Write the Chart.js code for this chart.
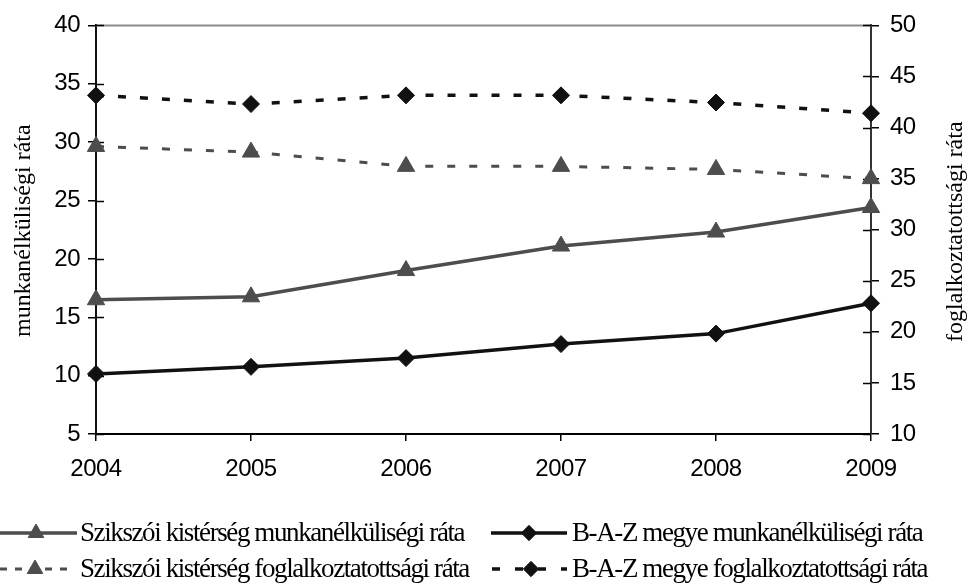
<!DOCTYPE html>
<html><head><meta charset="utf-8">
<script src="https://cdn.jsdelivr.net/npm/chart.js@4/dist/chart.umd.min.js"></script>
<style>html,body{margin:0;padding:0;background:#fff}#wrap{width:968px;height:588px;position:relative}</style>
</head><body><div id="wrap"><canvas id="c" width="968" height="588"></canvas></div>
<script>
const years = ['2004','2005','2006','2007','2008','2009'];
const sziksziMunka = [16.5, 16.75, 19.0, 21.1, 22.3, 24.4];
const bazMunka = [10.15, 10.75, 11.5, 12.7, 13.6, 16.2];
const sziksziFog = [38.15, 37.6, 36.2, 36.2, 35.9, 35.0];
const bazFog = [43.15, 42.3, 43.15, 43.15, 42.45, 41.4];
const leftRange = [5, 40];
const rightRange = [10, 50];
const tickStep = 5;
const seriesLabels = [
  'Szikszói kistérség munkanélküliségi ráta',
  'B-A-Z megye munkanélküliségi ráta',
  'Szikszói kistérség foglalkoztatottsági ráta',
  'B-A-Z megye foglalkoztatottsági ráta'
];
const leftTitle = 'munkanélküliségi ráta';
const rightTitle = 'foglalkoztatottsági ráta';

const GRAY = '#4d4d4d', BLACK = '#111';
const tickFont = {family: "'Liberation Sans', Arial, sans-serif", size: 24};
const serif = "'Liberation Serif', 'Times New Roman', serif";

const datasets = [
  {label: seriesLabels[0], data: sziksziMunka, yAxisID: 'y', borderColor: GRAY, backgroundColor: GRAY,
   borderWidth: 3.5, pointStyle: 'triangle', pointRadius: 10, pointBorderWidth: 1, pointBackgroundColor: GRAY, pointBorderColor: GRAY, tension: 0},
  {label: seriesLabels[1], data: bazMunka, yAxisID: 'y', borderColor: BLACK, backgroundColor: BLACK,
   borderWidth: 3.5, pointStyle: 'rectRot', pointRadius: 8.5, pointBorderWidth: 1, pointBackgroundColor: BLACK, pointBorderColor: BLACK, tension: 0},
  {label: seriesLabels[2], data: sziksziFog, yAxisID: 'y1', borderColor: GRAY, backgroundColor: GRAY,
   borderWidth: 3, borderDash: [8, 14], pointStyle: 'triangle', pointRadius: 10, pointBorderWidth: 1, pointBackgroundColor: GRAY, pointBorderColor: GRAY, tension: 0},
  {label: seriesLabels[3], data: bazFog, yAxisID: 'y1', borderColor: BLACK, backgroundColor: BLACK,
   borderWidth: 3.5, borderDash: [8, 14], pointStyle: 'rectRot', pointRadius: 8.5, pointBorderWidth: 1, pointBackgroundColor: BLACK, pointBorderColor: BLACK, tension: 0}
];

function drawMarker(ctx, style, x, y, r, color) {
  ctx.save();
  ctx.setLineDash([]);
  ctx.fillStyle = color; ctx.strokeStyle = color; ctx.lineWidth = 1;
  ctx.beginPath();
  if (style === 'triangle') {
    ctx.moveTo(x, y - r);
    ctx.lineTo(x + r * Math.sin(2 * Math.PI / 3), y + r / 2);
    ctx.lineTo(x - r * Math.sin(2 * Math.PI / 3), y + r / 2);
  } else {
    ctx.moveTo(x - r, y); ctx.lineTo(x, y - r); ctx.lineTo(x + r, y); ctx.lineTo(x, y + r);
  }
  ctx.closePath(); ctx.fill(); ctx.stroke();
  ctx.restore();
}

const extras = {
  id: 'extras',
  beforeDraw(chart) {
    chart.ctx.letterSpacing = '-0.5px';
  },
  beforeDatasetsDraw(chart) {
    const ctx = chart.ctx, a = chart.chartArea;
    ctx.save();
    ctx.strokeStyle = '#8c8c8c'; ctx.lineWidth = 2;
    ctx.beginPath(); ctx.moveTo(a.left, a.top); ctx.lineTo(a.right, a.top); ctx.stroke();
    ctx.strokeStyle = '#000'; ctx.lineWidth = 1.5;
    const sy = chart.scales.y, sy1 = chart.scales.y1;
    sy.ticks.forEach(t => { const p = Math.round(sy.getPixelForValue(t.value)) + 0.5; ctx.beginPath(); ctx.moveTo(a.left, p); ctx.lineTo(a.left + 8, p); ctx.stroke(); });
    sy1.ticks.forEach(t => { const p = Math.round(sy1.getPixelForValue(t.value)) + 0.5; ctx.beginPath(); ctx.moveTo(a.right - 8, p); ctx.lineTo(a.right, p); ctx.stroke(); });
    ctx.restore();
  },
  afterDraw(chart) {
    const ctx = chart.ctx, a = chart.chartArea;
    ctx.save();
    ctx.letterSpacing = '0px';
    ctx.fillStyle = '#000';
    ctx.font = '24px ' + serif;
    ctx.textAlign = 'center'; ctx.textBaseline = 'middle';
    const midY = (a.top + a.bottom) / 2;
    ctx.save(); ctx.translate(24, midY + 1); ctx.rotate(-Math.PI / 2); ctx.fillText(leftTitle, 0, 0); ctx.restore();
    ctx.save(); ctx.translate(956, midY + 2); ctx.rotate(-Math.PI / 2); ctx.fillText(rightTitle, 0, 0); ctx.restore();

    const items = [
      {ds: chart.data.datasets[0], x0: 0, x1: 77, mx: 36, tx: 80, ly: 533, ty: 541, dash: []},
      {ds: chart.data.datasets[1], x0: 491, x1: 567, mx: 529, tx: 572, ly: 533, ty: 541, dash: []},
      {ds: chart.data.datasets[2], x0: 0, x1: 70, mx: 35, tx: 80, ly: 569, ty: 577, dash: [7, 8]},
      {ds: chart.data.datasets[3], x0: 492, x1: 567, mx: 531, tx: 572, ly: 569, ty: 577, dash: [8, 15]}
    ];
    ctx.font = '27px ' + serif;
    ctx.textAlign = 'left'; ctx.textBaseline = 'alphabetic';
    items.forEach(it => {
      const ds = it.ds;
      ctx.save();
      ctx.strokeStyle = ds.borderColor; ctx.lineWidth = ds.borderWidth;
      ctx.setLineDash(it.dash);
      ctx.beginPath(); ctx.moveTo(it.x0, it.ly); ctx.lineTo(it.x1, it.ly); ctx.stroke();
      ctx.restore();
      drawMarker(ctx, ds.pointStyle, it.mx, it.ly, ds.pointRadius * 0.9, ds.pointBackgroundColor);
      ctx.letterSpacing = '-1.4px';
      ctx.fillStyle = '#000';
      ctx.fillText(ds.label, it.tx, it.ty);
    });
    ctx.restore();
  }
};

new Chart(document.getElementById('c'), {
  type: 'line',
  data: {labels: years, datasets},
  plugins: [extras],
  options: {
    responsive: false,
    animation: false,
    devicePixelRatio: 1,
    layout: {padding: {top: 20, left: 0, right: 0, bottom: 0}},
    plugins: {legend: {display: false}, tooltip: {enabled: false}},
    scales: {
      x: {
        type: 'category', offset: false,
        grid: {drawOnChartArea: false, drawTicks: true, tickLength: 7, color: '#000', lineWidth: 1.5},
        border: {color: '#000', width: 2},
        ticks: {font: tickFont, color: '#000', padding: 14, maxRotation: 0, autoSkip: false},
        afterFit(s) { s.height = 154; }
      },
      y: {
        position: 'left', min: leftRange[0], max: leftRange[1],
        grid: {drawOnChartArea: false, drawTicks: true, tickLength: 8, color: '#000', lineWidth: 1.5},
        border: {color: '#111', width: 2},
        ticks: {stepSize: tickStep, font: tickFont, color: '#000', padding: 8},
        afterFit(s) { s.width = 96; }
      },
      y1: {
        position: 'right', min: rightRange[0], max: rightRange[1],
        grid: {drawOnChartArea: false, drawTicks: true, tickLength: 8, color: '#000', lineWidth: 1.5},
        border: {color: '#333', width: 2},
        ticks: {stepSize: tickStep, font: tickFont, color: '#000', padding: 11},
        afterFit(s) { s.width = 97; }
      }
    }
  }
});
</script>
</body></html>
